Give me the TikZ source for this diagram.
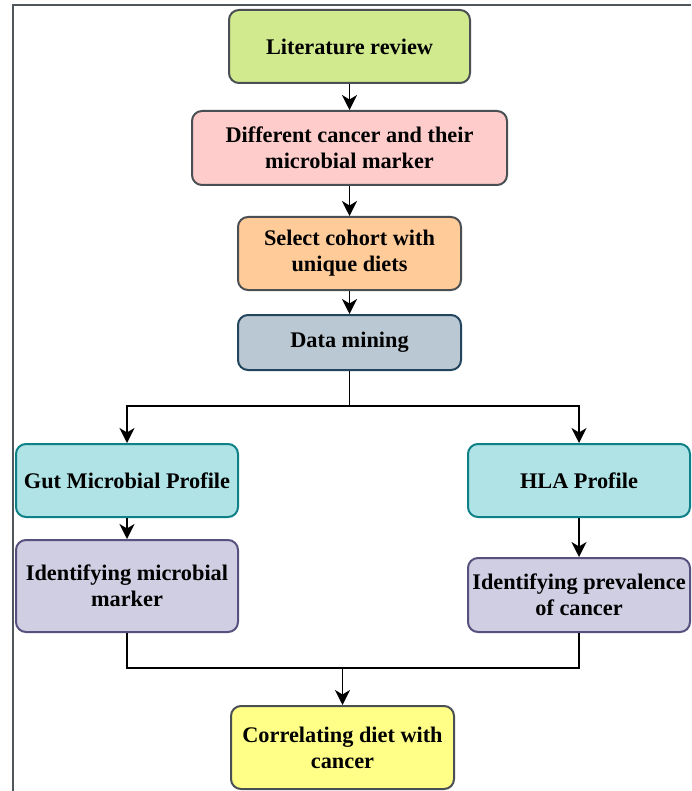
\documentclass[tikz,border=0pt]{standalone}
\usepackage{fontspec}
\setmainfont{Liberation Serif}
\usetikzlibrary{arrows.meta}
\definecolor{litfill}{HTML}{D2EA8E}
\definecolor{difffill}{HTML}{FFCCCC}
\definecolor{cohortfill}{HTML}{FFCC99}
\definecolor{minefill}{HTML}{BAC8D3}
\definecolor{mineline}{HTML}{23445D}
\definecolor{proffill}{HTML}{B0E3E6}
\definecolor{profline}{HTML}{0E8088}
\definecolor{idfill}{HTML}{D0CEE2}
\definecolor{idline}{HTML}{56517E}
\definecolor{corrfill}{HTML}{FFFF88}
\definecolor{boxline}{HTML}{4A4F54}
\definecolor{frameline}{HTML}{4F575C}
\tikzset{
  stage/.style={draw=boxline,line width=2pt,rounded corners=10pt,inner sep=0pt,align=center,
    font=\bfseries\fontsize{22.3}{26}\selectfont},
  flow/.style={line width=1.8pt,black},
  flowto/.style={flow,-{Stealth[length=15pt,width=15pt,inset=4.5pt]}}
}
\begin{document}
\begin{tikzpicture}[x=1pt,y=-1pt]
\useasboundingbox (0,0) rectangle (691,791);
\fill[white] (0,0) rectangle (691,791);
\draw[frameline,line width=2.5pt] (13,791) -- (13,5) -- (691,5);		%frame
\node[stage,fill=litfill,minimum width=241,minimum height=73] (lit) at (349.5,46.5) {Literature review};
\node[stage,fill=difffill,minimum width=315,minimum height=74] (diff) at (349.5,148) {Different cancer and their\\microbial marker};
\node[stage,fill=cohortfill,minimum width=223,minimum height=73] (cohort) at (349.5,253.5) {Select cohort with\\unique diets};
\node[stage,fill=minefill,draw=mineline,minimum width=223,minimum height=55] (mine) at (349.5,342.5) {Data mining};
\node[stage,fill=proffill,draw=profline,minimum width=222,minimum height=73] (gut) at (127,480.5) {Gut Microbial Profile};
\node[stage,fill=proffill,draw=profline,minimum width=222,minimum height=73] (hla) at (579,480.5) {HLA Profile};
\node[stage,fill=idfill,draw=idline,minimum width=222,minimum height=92] (idmic) at (127,586) {Identifying microbial\\marker};
\node[stage,fill=idfill,draw=idline,minimum width=222,minimum height=74] (idprev) at (579,595) {Identifying prevalence\\of cancer};
\node[stage,fill=corrfill,minimum width=223,minimum height=83] (corr) at (342.5,747.5) {Correlating diet with\\cancer};
\coordinate (split) at (349.5,406);
\coordinate (join) at (342.5,668);
\draw[flowto] (lit) -- (diff);
\draw[flowto] (diff) -- (cohort);
\draw[flowto] (cohort) -- (mine);
\draw[flow] (mine) -- (split);		%branch
\draw[flowto] (split) -| (gut);
\draw[flowto] (split) -| (hla);
\draw[flowto] (gut) -- (idmic);
\draw[flowto] (hla) -- (idprev);
\draw[flow] (idmic) |- (join);		%merge
\draw[flow] (idprev) |- (join);
\draw[flowto] (join) -- (corr);
\end{tikzpicture}
\end{document}
